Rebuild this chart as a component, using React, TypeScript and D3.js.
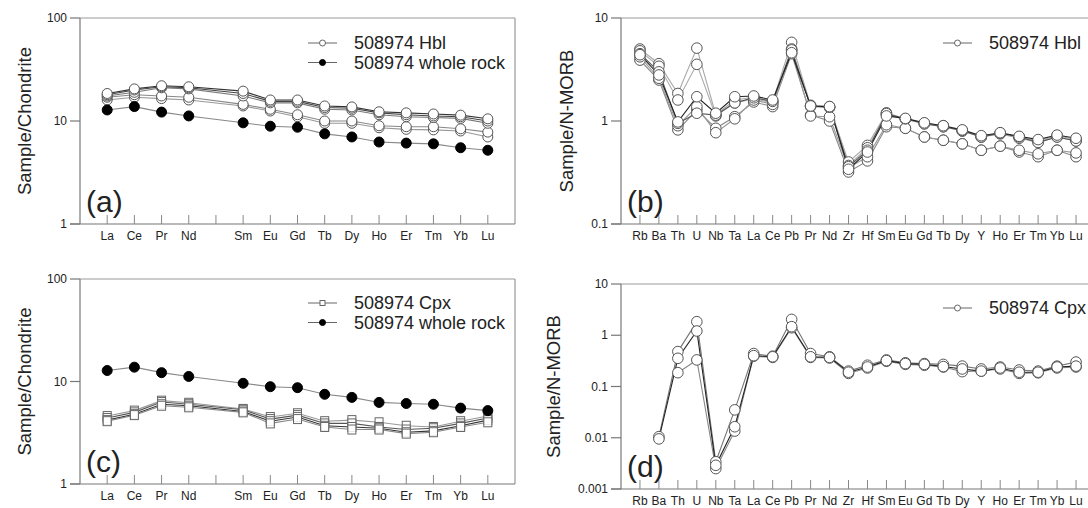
import React from "react";
import * as d3 from "d3";

// ---------- categories ----------
const reeAxis = ["La", "Ce", "Pr", "Nd", "Pm", "Sm", "Eu", "Gd", "Tb", "Dy", "Ho", "Er", "Tm", "Yb", "Lu"];
const reeElems = ["La", "Ce", "Pr", "Nd", "Sm", "Eu", "Gd", "Tb", "Dy", "Ho", "Er", "Tm", "Yb", "Lu"];
const spiderElems = ["Rb", "Ba", "Th", "U", "Nb", "Ta", "La", "Ce", "Pb", "Pr", "Nd", "Zr", "Hf", "Sm", "Eu", "Gd", "Tb", "Dy", "Y", "Ho", "Er", "Tm", "Yb", "Lu"];

// ---------- tick labels ----------
const ticksChondrite = [1, 10, 100];
const ticksMorbB = [0.1, 1, 10];
const ticksMorbD = [0.001, 0.01, 0.1, 1, 10];
const tickFmt = (v: number) => (v >= 1 ? String(v) : String(v));

// ---------- (a) Hbl chondrite-normalised ----------
const hblRee1 = [18.5, 20.5, 22, 21.5, 19.5, 16, 16, 14, 13.7, 12.3, 12, 11.7, 11.4, 10.5];
const hblRee2 = [18, 20, 21.5, 21, 18.5, 15.5, 15.5, 13.5, 13.3, 12, 11.5, 11.2, 11, 10];
const hblRee3 = [17.5, 19, 21, 20.5, 17.5, 15, 15, 13, 12.8, 11.5, 11, 10.8, 10.6, 9.5];
const hblRee4 = [17, 18, 17.5, 17, 14.5, 13, 11.5, 10, 10, 9, 8.8, 8.8, 8.4, 7.8];
const hblRee5 = [16, 17, 16.5, 16, 14, 12.5, 11, 9.5, 9.5, 8.6, 8.3, 8.2, 8, 7];
const wholeRockRee = [12.8, 13.8, 12.2, 11.2, 9.6, 8.9, 8.7, 7.5, 7.0, 6.25, 6.1, 6.0, 5.5, 5.2];

// ---------- (c) Cpx chondrite-normalised ----------
const cpxRee1 = [4.6, 5.2, 6.5, 6.2, 5.4, 4.5, 4.9, 4.1, 4.2, 4.0, 3.7, 3.6, 4.1, 4.6];
const cpxRee2 = [4.4, 5.0, 6.3, 6.0, 5.3, 4.3, 4.7, 3.9, 3.9, 3.6, 3.4, 3.5, 3.9, 4.4];
const cpxRee3 = [4.2, 4.8, 6.0, 5.8, 5.1, 4.1, 4.5, 3.7, 3.6, 3.5, 3.2, 3.3, 3.7, 4.2];
const cpxRee4 = [4.1, 4.7, 5.8, 5.6, 5.0, 3.9, 4.3, 3.6, 3.4, 3.4, 3.1, 3.2, 3.6, 4.0];

// ---------- (b) Hbl N-MORB-normalised ----------
const hblMorb1 = [5.0, 3.6, 1.85, 5.1, 1.15, 1.6, 1.7, 1.55, 5.8, 1.42, 1.38, 0.40, 0.58, 1.2, 1.05, 0.95, 0.9, 0.8, 0.7, 0.76, 0.7, 0.64, 0.72, 0.66];
const hblMorb2 = [4.8, 3.4, 1.6, 3.55, 1.12, 1.5, 1.65, 1.5, 5.0, 1.38, 1.35, 0.37, 0.55, 1.15, 1.04, 0.94, 0.88, 0.8, 0.7, 0.75, 0.68, 0.62, 0.7, 0.64];
const hblMorb3 = [4.4, 2.8, 0.98, 1.72, 1.19, 1.72, 1.75, 1.6, 4.6, 1.4, 1.38, 0.34, 0.5, 1.12, 1.06, 0.96, 0.9, 0.82, 0.72, 0.77, 0.71, 0.66, 0.73, 0.68];
const hblMorb4 = [3.9, 2.5, 0.82, 1.28, 0.85, 1.1, 1.53, 1.38, 4.5, 1.14, 1.0, 0.32, 0.41, 0.88, 0.85, 0.70, 0.65, 0.6, 0.52, 0.57, 0.5, 0.45, 0.52, 0.45];
const hblMorb5 = [4.2, 2.6, 0.9, 1.38, 0.77, 1.05, 1.6, 1.45, 4.8, 1.12, 1.1, 0.35, 0.45, 0.92, 0.85, 0.70, 0.65, 0.6, 0.52, 0.57, 0.52, 0.48, 0.52, 0.49];
const hblMorb6 = [4.5, 3.0, 0.95, 1.19, 1.14, 1.5, 1.68, 1.55, 4.9, 1.4, 1.36, 0.36, 0.52, 1.18, 1.05, 0.94, 0.88, 0.81, 0.7, 0.76, 0.7, 0.62, 0.7, 0.64];

// ---------- (d) Cpx N-MORB-normalised ----------
const cpxMorb1 = [null, 0.0105, 0.48, 1.84, 0.0034, 0.035, 0.44, 0.39, 2.04, 0.44, 0.38, 0.2, 0.26, 0.33, 0.29, 0.28, 0.27, 0.25, 0.22, 0.24, 0.21, 0.2, 0.25, 0.3];
const cpxMorb2 = [null, 0.0095, 0.355, 1.21, 0.0029, 0.0164, 0.4, 0.38, 1.47, 0.38, 0.37, 0.19, 0.24, 0.32, 0.28, 0.27, 0.245, 0.22, 0.2, 0.23, 0.19, 0.19, 0.24, 0.25];
const cpxMorb3 = [null, null, 0.186, 0.33, 0.0025, 0.0135, 0.39, 0.37, 1.4, 0.37, 0.36, 0.18, 0.23, 0.31, 0.27, 0.26, 0.24, 0.195, 0.2, 0.22, 0.18, 0.185, 0.23, 0.24];

const FONT = "'Liberation Sans', Arial, Helvetica, sans-serif";

type Series = { values: (number | null)[]; marker: "open" | "filled" | "square"; line: string };

type PanelProps = {
  left: number; right: number; top: number; bottom: number;
  axisCats: string[]; elems: string[]; labels: string[];
  domain: [number, number]; ticks: number[];
  title: string; titleX: number; tag: string;
  series: Series[]; legend: { marker: "open" | "filled" | "square"; text: string }[];
  legendLineX: number; legendTextX: number; legendY: number;
  r: number;
};

function Marker({ kind, x, y, r }: { kind: string; x: number; y: number; r: number }) {
  if (kind === "square") {
    return <rect x={x - 4} y={y - 4.5} width={8} height={9} fill="#fff" fillOpacity={0.85} stroke="#666" strokeWidth={1} />;
  }
  return <circle cx={x} cy={y} r={r} fill={kind === "filled" ? "#000" : "#fff"} stroke={kind === "filled" ? "#000" : "#555"} strokeWidth={1} />;
}

function Panel(p: PanelProps) {
  const x = d3.scalePoint<string>().domain(p.axisCats).range([p.left, p.right]).padding(1);
  const y = d3.scaleLog().domain(p.domain).range([p.bottom, p.top]);
  const line = d3.line<{ e: string; v: number | null }>()
    .defined((d) => d.v != null)
    .x((d) => x(d.e)!)
    .y((d) => y(d.v as number));
  const midY = (p.top + p.bottom) / 2;
  return (
    <g>
      {/* frame */}
      <line x1={p.left} x2={p.right} y1={p.top} y2={p.top} stroke="#999" strokeWidth={1.2} />
      <line x1={p.right} x2={p.right} y1={p.top} y2={p.bottom} stroke="#999" strokeWidth={1.2} />
      <line x1={p.left - 10} x2={p.right} y1={p.bottom} y2={p.bottom} stroke="#777" strokeWidth={1.2} />
      <line x1={p.left} x2={p.left} y1={p.top} y2={p.bottom} stroke="#777" strokeWidth={1.2} />
      {/* y ticks */}
      {p.ticks.map((t) => (
        <g key={t}>
          <line x1={p.left - 10} x2={p.left} y1={y(t)} y2={y(t)} stroke="#777" strokeWidth={1.2} />
          <text x={p.left - 13} y={y(t)} dy="0.35em" textAnchor="end" fontSize={12} fill="#222" fontFamily={FONT}>{tickFmt(t)}</text>
        </g>
      ))}
      {/* x ticks */}
      {p.axisCats.map((c) => (
        <line key={c} x1={x(c)} x2={x(c)} y1={p.bottom} y2={p.bottom - 9} stroke="#888" strokeWidth={1} />
      ))}
      {p.labels.map((c) => (
        <text key={c} x={x(c)} y={p.bottom + 16} textAnchor="middle" fontSize={12} fill="#222" fontFamily={FONT}>{c}</text>
      ))}
      {/* title */}
      <text transform={`translate(${p.titleX},${midY}) rotate(-90)`} textAnchor="middle" dy="0.35em" fontSize={18.5} fill="#222" fontFamily={FONT}>{p.title}</text>
      <text x={p.left + 6} y={p.bottom - 12} fontSize={30} fill="#222" fontFamily={FONT}>{p.tag}</text>
      {/* series lines */}
      {p.series.map((s, i) => {
        const pts = p.elems.map((e, j) => ({ e, v: s.values[j] }));
        return <path key={"l" + i} d={line(pts) || ""} fill="none" stroke={s.line} strokeWidth={1.1} />;
      })}
      {p.series.map((s, i) =>
        p.elems.map((e, j) => {
          const v = s.values[j];
          if (v == null) return null;
          return <Marker key={`m${i}-${j}`} kind={s.marker} x={x(e)!} y={y(v)} r={p.r} />;
        })
      )}
      {/* legend */}
      {p.legend.map((l, i) => {
        const ly = p.legendY + i * 19.5;
        return (
          <g key={"lg" + i}>
            <line x1={p.legendLineX} x2={p.legendLineX + 29} y1={ly} y2={ly} stroke="#666" strokeWidth={1} />
            {l.marker === "square" ? (
              <rect x={p.legendLineX + 12} y={ly - 2.5} width={5} height={5} fill="#fff" stroke="#666" />
            ) : (
              <circle cx={p.legendLineX + 14.5} cy={ly} r={3} fill={l.marker === "filled" ? "#000" : "#fff"} stroke={l.marker === "filled" ? "#000" : "#666"} />
            )}
            <text x={p.legendTextX} y={ly} dy="0.35em" fontSize={18} fill="#222" fontFamily={FONT}>{l.text}</text>
          </g>
        );
      })}
    </g>
  );
}

export default function App() {
  const hblA: Series[] = [
    { values: hblRee5, marker: "open", line: "#999" },
    { values: hblRee4, marker: "open", line: "#888" },
    { values: hblRee3, marker: "open", line: "#777" },
    { values: hblRee2, marker: "open", line: "#444" },
    { values: hblRee1, marker: "open", line: "#333" },
  ];
  const wr: Series = { values: wholeRockRee, marker: "filled", line: "#888" };
  const cpxC: Series[] = [
    { values: cpxRee1, marker: "square", line: "#999" },
    { values: cpxRee2, marker: "square", line: "#555" },
    { values: cpxRee3, marker: "square", line: "#333" },
    { values: cpxRee4, marker: "square", line: "#888" },
  ];
  const hblB: Series = [] as any;
  const bSeries: Series[] = [
    { values: hblMorb1, marker: "open", line: "#aaa" },
    { values: hblMorb2, marker: "open", line: "#aaa" },
    { values: hblMorb4, marker: "open", line: "#888" },
    { values: hblMorb5, marker: "open", line: "#999" },
    { values: hblMorb6, marker: "open", line: "#555" },
    { values: hblMorb3, marker: "open", line: "#222" },
  ];
  void hblB;
  const dSeries: Series[] = [
    { values: cpxMorb3, marker: "open", line: "#888" },
    { values: cpxMorb1, marker: "open", line: "#777" },
    { values: cpxMorb2, marker: "open", line: "#222" },
  ];
  return (
    <svg width={1088} height={508} style={{ display: "block", position: "absolute", left: 0, top: 0, background: "#fff" }}>
      <rect width={1088} height={508} fill="#fff" />
      <Panel left={80} right={515} top={18} bottom={224} axisCats={reeAxis} elems={reeElems} labels={reeElems}
        domain={[1, 100]} ticks={ticksChondrite} title="Sample/Chondrite" titleX={25} tag="(a)"
        series={[...hblA, wr]} legend={[{ marker: "open", text: "508974 Hbl" }, { marker: "filled", text: "508974 whole rock" }]}
        legendLineX={308} legendTextX={354} legendY={43} r={5} />
      <Panel left={621} right={1095} top={18} bottom={224} axisCats={spiderElems} elems={spiderElems} labels={spiderElems}
        domain={[0.1, 10]} ticks={ticksMorbB} title="Sample/N-MORB" titleX={567} tag="(b)"
        series={bSeries} legend={[{ marker: "open", text: "508974 Hbl" }]}
        legendLineX={943} legendTextX={989} legendY={43} r={5.3} />
      <Panel left={80} right={515} top={279} bottom={484} axisCats={reeAxis} elems={reeElems} labels={reeElems}
        domain={[1, 100]} ticks={ticksChondrite} title="Sample/Chondrite" titleX={25} tag="(c)"
        series={[...cpxC, wr]} legend={[{ marker: "square", text: "508974 Cpx" }, { marker: "filled", text: "508974 whole rock" }]}
        legendLineX={308} legendTextX={354} legendY={303} r={5} />
      <Panel left={621} right={1095} top={284} bottom={489} axisCats={spiderElems} elems={spiderElems} labels={spiderElems}
        domain={[0.001, 10]} ticks={ticksMorbD} title="Sample/N-MORB" titleX={554} tag="(d)"
        series={dSeries} legend={[{ marker: "open", text: "508974 Cpx" }]}
        legendLineX={943} legendTextX={989} legendY={308} r={5.3} />
    </svg>
  );
}
